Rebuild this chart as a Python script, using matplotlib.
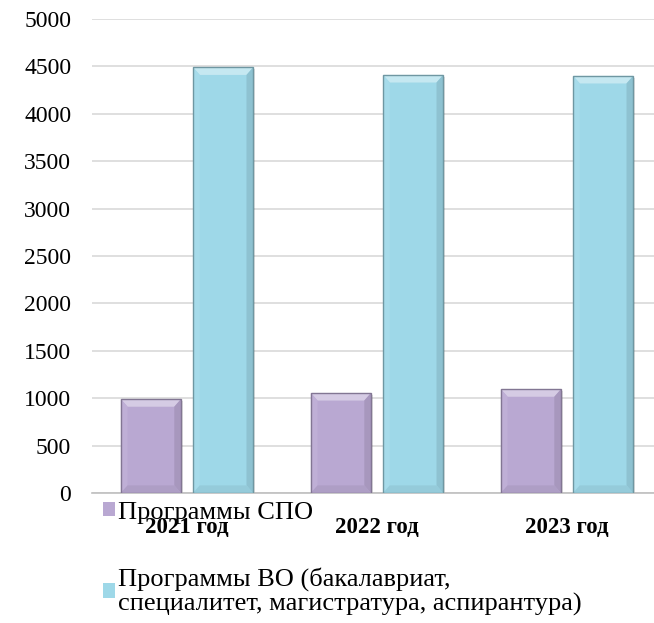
import numpy as np
import matplotlib
matplotlib.use('Agg')
import matplotlib.pyplot as plt
from matplotlib.patches import Polygon
from matplotlib.colors import to_rgb

# Данные
years = ['2021 год', '2022 год', '2023 год']
spo = [990, 1055, 1095]
vo = [4490, 4410, 4400]
labels = ['Программы СПО',
          'Программы ВО (бакалавриат,\nспециалитет, магистратура, аспирантура)']
colors = ['#B9A8D2', '#9ED8E8']

plt.rcParams['font.family'] = ['Liberation Serif', 'DejaVu Serif']


def shade(c, k):
    r = np.array(to_rgb(c))
    if k > 0:
        return tuple(r + (1 - r) * k)
    return tuple(r * (1 + k))


def bevel(ax, bar, color, dx=0.035, dy=80):
    x0, y0 = bar.get_x(), bar.get_y()
    x1, y1 = x0 + bar.get_width(), y0 + bar.get_height()
    faces = [
        ([(x0, y1), (x1, y1), (x1 - dx, y1 - dy), (x0 + dx, y1 - dy)], 0.4),
        ([(x0, y0), (x0, y1), (x0 + dx, y1 - dy), (x0 + dx, y0 + dy)], 0.08),
        ([(x1, y0), (x1, y1), (x1 - dx, y1 - dy), (x1 - dx, y0 + dy)], -0.1),
        ([(x0, y0), (x1, y0), (x1 - dx, y0 + dy), (x0 + dx, y0 + dy)], -0.06),
    ]
    for pts, k in faces:
        ax.add_patch(Polygon(pts, closed=True, facecolor=shade(color, k),
                             edgecolor='none', zorder=3))
    ax.add_patch(plt.Rectangle((x0, y0), x1 - x0, y1 - y0, fill=False,
                               edgecolor=shade(color, -0.3), lw=1.0, zorder=4))
    # тень
    ax.add_patch(plt.Rectangle((x0 + 0.012, y0), x1 - x0, y1 - y0 - 20,
                               facecolor='#000000', alpha=0.12,
                               edgecolor='none', zorder=1.5))


fig = plt.figure(figsize=(6.54, 6.23), dpi=100)
ax = fig.add_axes([0.1407, 0.2087, 0.8716, 0.7608])

x = np.arange(len(years))
w = 0.316
b1 = ax.bar(x - 0.19, spo, w, color=colors[0], label=labels[0], zorder=2)
b2 = ax.bar(x + 0.19, vo, w, color=colors[1], label=labels[1], zorder=2)
for bars, c in ((b1, colors[0]), (b2, colors[1])):
    for bar in bars:
        bevel(ax, bar, c)

ax.set_xlim(-0.5, 2.5)
ax.set_ylim(0, 5000)
ax.set_yticks(np.arange(0, 5001, 500))
ax.yaxis.grid(True, color='#D9D9D9', lw=1.2)
ax.set_axisbelow(True)
for s in ['top', 'right', 'left']:
    ax.spines[s].set_visible(False)
ax.spines['bottom'].set_color('#BFBFBF')
ax.spines['bottom'].set_linewidth(1.2)
ax.set_xticks(x)
ax.set_xticklabels(years, fontsize=16.5, fontweight='bold')
ax.tick_params(axis='both', length=0)
ax.tick_params(axis='x', pad=17)
ax.tick_params(axis='y', labelsize=17, pad=15)

leg = fig.legend(handles=[b1, b2], labels=labels, loc='upper left',
                 bbox_to_anchor=(0.1575, 0.195), frameon=False, fontsize=19,
                 handlelength=0.46, handleheight=0.46, handletextpad=0.12,
                 labelspacing=1.65, borderpad=0, borderaxespad=0)
leg.get_texts()[1].set_linespacing(1.1)

fig.savefig('out.png', dpi=100)
